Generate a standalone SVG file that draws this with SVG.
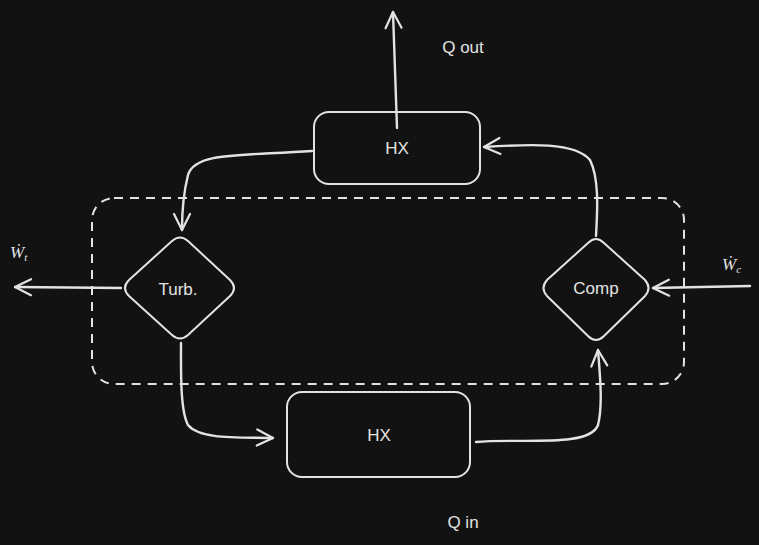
<svg xmlns="http://www.w3.org/2000/svg" width="759" height="545" viewBox="0 0 759 545">
<defs>
<marker id="ah" viewBox="0 0 20 20" refX="18" refY="10" markerWidth="20" markerHeight="20" markerUnits="userSpaceOnUse" orient="auto">
<path d="M2 2 L18 10 L2 18" fill="none" stroke="#e3e3e3" stroke-width="2.2" stroke-linecap="round" stroke-linejoin="round"/>
</marker>
</defs>
<style>
.sh{fill:none;stroke:#e3e3e3;stroke-width:2;}
.ar{fill:none;stroke:#e3e3e3;stroke-width:2.4;stroke-linecap:round;marker-end:url(#ah);}
.t{fill:#e3e3e3;font-family:"Liberation Sans",Arial,sans-serif;font-size:17px;text-anchor:middle;dominant-baseline:central;}
.m{fill:#e3e3e3;font-family:"Liberation Serif",serif;font-style:italic;font-size:17px;}
</style>
<rect width="759" height="545" fill="#121212"/>
<g id="boundary">
<rect x="92" y="198" width="592" height="186" rx="22" fill="none" stroke="#e3e3e3" stroke-width="2" stroke-dasharray="9 7"/>
</g>
<g id="connectors">
<path class="ar" d="M397 128 L393 12"/>
<path class="ar" d="M312 151 C240 156 195 152 188 175 C183 195 182 215 182 230"/>
<path class="ar" d="M596 236 C597 215 600 180 590 160 C575 142 530 144 484 147"/>
<path class="ar" d="M181 343 C181 370 180 410 188 425 C200 440 240 437 273 438"/>
<path class="ar" d="M476 442 C520 438 590 448 598 425 C603 405 600 375 598 350"/>
<path class="ar" d="M121 288 L15 287"/>
<path class="ar" d="M750 286 L653 288"/>
</g>
<g id="hx-top">
<rect class="sh" x="314" y="112" width="166" height="72" rx="15"/>
<text class="t" x="397" y="148">HX</text>
</g>
<g id="hx-bottom">
<rect class="sh" x="287" y="392" width="183" height="85" rx="15"/>
<text class="t" x="379" y="435">HX</text>
</g>
<g id="turbine">
<path class="sh" d="M172 241 Q180 234 188 241 L230 280 Q238 288 230 296 L188 335 Q180 342 172 335 L129 296 Q121 288 129 280 Z"/>
<text class="t" x="178" y="289">Turb.</text>
</g>
<g id="compressor">
<path class="sh" d="M588 243 Q596 235 604 243 L645 280 Q652 288 645 296 L604 336 Q596 344 588 336 L547 296 Q540 288 547 280 Z"/>
<text class="t" x="596" y="288">Comp</text>
</g>
<g id="labels">
<text class="t" x="463" y="47">Q out</text>
<text class="t" x="463" y="522">Q in</text>
<text class="m" x="10" y="258">Ẇ<tspan font-size="11" dy="3">t</tspan></text>
<text class="m" x="722" y="270">Ẇ<tspan font-size="11" dy="3">c</tspan></text>
</g>
</svg>
